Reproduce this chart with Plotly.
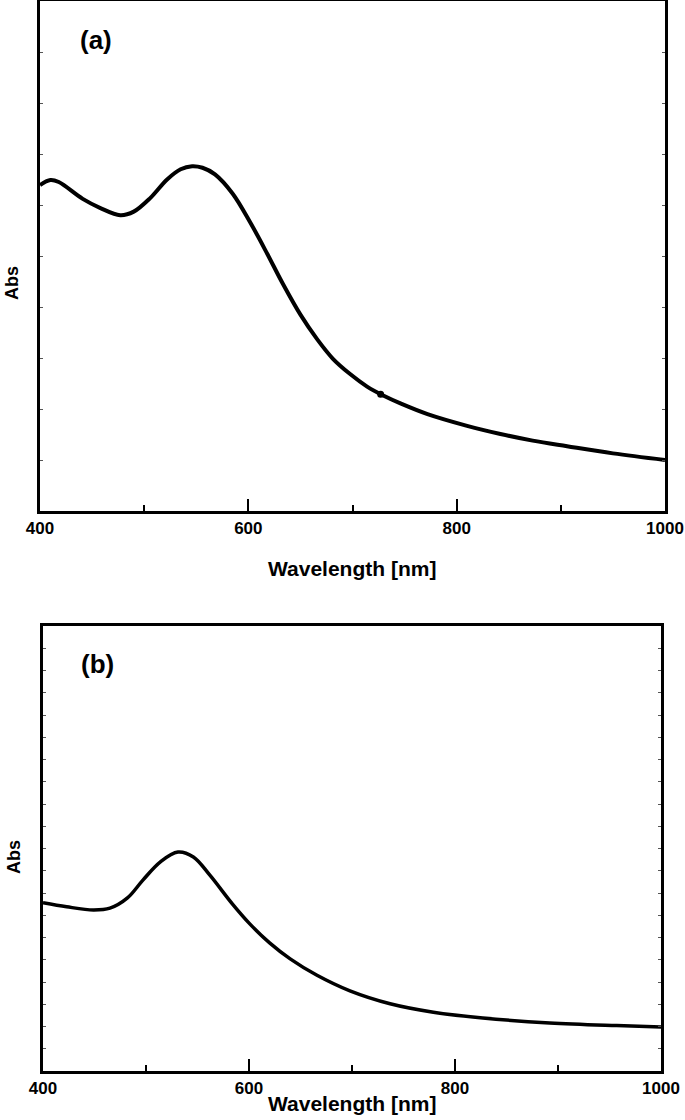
import plotly.graph_objects as go

# Panel (a) spectrum
wl_a = [400, 410, 418, 441, 458, 477, 490, 506, 522, 535, 546, 556, 568, 585, 602, 618, 633,
        650, 666, 681, 698, 714, 730, 746, 772, 810, 842, 873, 906, 950, 1000]
abs_a = [0.639, 0.649, 0.645, 0.612, 0.594, 0.580, 0.587, 0.614, 0.650, 0.670, 0.676, 0.673,
         0.660, 0.622, 0.565, 0.505, 0.446, 0.385, 0.337, 0.299, 0.268, 0.244, 0.226, 0.211,
         0.190, 0.167, 0.151, 0.138, 0.127, 0.113, 0.100]
# small glitch point visible on spectrum (a)
glitch_wl = [727]
glitch_abs = [0.229]

# Panel (b) spectrum
wl_b = [400, 423, 449, 465, 482, 497, 514, 531, 546, 562, 584, 601, 620, 640, 666, 698,
        737, 779, 827, 892, 957, 1000]
abs_b = [0.378, 0.369, 0.362, 0.366, 0.389, 0.429, 0.470, 0.492, 0.481, 0.440, 0.375, 0.330,
         0.288, 0.252, 0.215, 0.180, 0.151, 0.132, 0.119, 0.108, 0.102, 0.099]

x_ticks = [400, 600, 800, 1000]
x_title = "Wavelength [nm]"
y_title = "Abs"
labels = ["(a)", "(b)"]

W, H = 685, 1120
FONT = "Liberation Sans, Arial, sans-serif"

fig = go.Figure()
fig.add_trace(go.Scatter(x=wl_a, y=abs_a, mode="lines",
                         line=dict(color="black", width=4, shape="spline", smoothing=1.0),
                         xaxis="x", yaxis="y", showlegend=False))
fig.add_trace(go.Scatter(x=glitch_wl, y=glitch_abs, mode="markers",
                         marker=dict(color="black", size=7),
                         xaxis="x", yaxis="y", showlegend=False))
fig.add_trace(go.Scatter(x=wl_b, y=abs_b, mode="lines",
                         line=dict(color="black", width=3.5, shape="spline", smoothing=1.0),
                         xaxis="x2", yaxis="y2", showlegend=False))

def xax(domain, anchor):
    return dict(domain=domain, anchor=anchor, range=[400, 1000], tickvals=x_ticks,
                ticks="inside", ticklen=12, tickwidth=2, tickcolor="black",
                minor=dict(dtick=100, tick0=400, ticks="inside", ticklen=6, tickwidth=2, tickcolor="black"),
                showline=True, linewidth=2.5, linecolor="black", mirror=True,
                showgrid=False, zeroline=False, automargin=False,
                tickfont=dict(family=FONT, size=17, color="black", weight="bold"))

def yax(domain, anchor, dt):
    return dict(domain=domain, anchor=anchor, range=[0, 1], dtick=dt,
                ticks="inside", ticklen=3, tickwidth=1, tickcolor="#555",
                showticklabels=False, showline=True, linewidth=2.5, linecolor="black",
                mirror="ticks", showgrid=False, zeroline=False, automargin=False)

fig.update_layout(
    template="none",
    width=W, height=H, margin=dict(l=0, r=0, t=0, b=0, pad=0),
    paper_bgcolor="white", plot_bgcolor="white",
    xaxis=xax([40 / W, 665 / W], "y"),
    yaxis=yax([(H - 511) / H, (H - 1) / H], "x", 0.1),
    xaxis2=xax([43 / W, 661 / W], "y2"),
    yaxis2=yax([(H - 1071) / H, (H - 626) / H], "x2", 0.05),
)

def ann(text, x, y, size, angle=0):
    fig.add_annotation(text="<b>%s</b>" % text, x=x / W, y=1 - y / H, xref="paper", yref="paper",
                       showarrow=False, textangle=angle, xanchor="center", yanchor="middle",
                       font=dict(family=FONT, size=size, color="black"))

ann(labels[0], 96, 40, 26)
ann(labels[1], 98, 664, 26)
ann(x_title, 352, 568, 21)
ann(x_title, 352, 1103, 21)
ann(y_title, 12, 283, 18, -90)
ann(y_title, 14, 857, 18, -90)

fig.write_html("out.html", config={"displayModeBar": False},
               post_script="document.body.style.margin='0';document.body.style.overflow='hidden';")
